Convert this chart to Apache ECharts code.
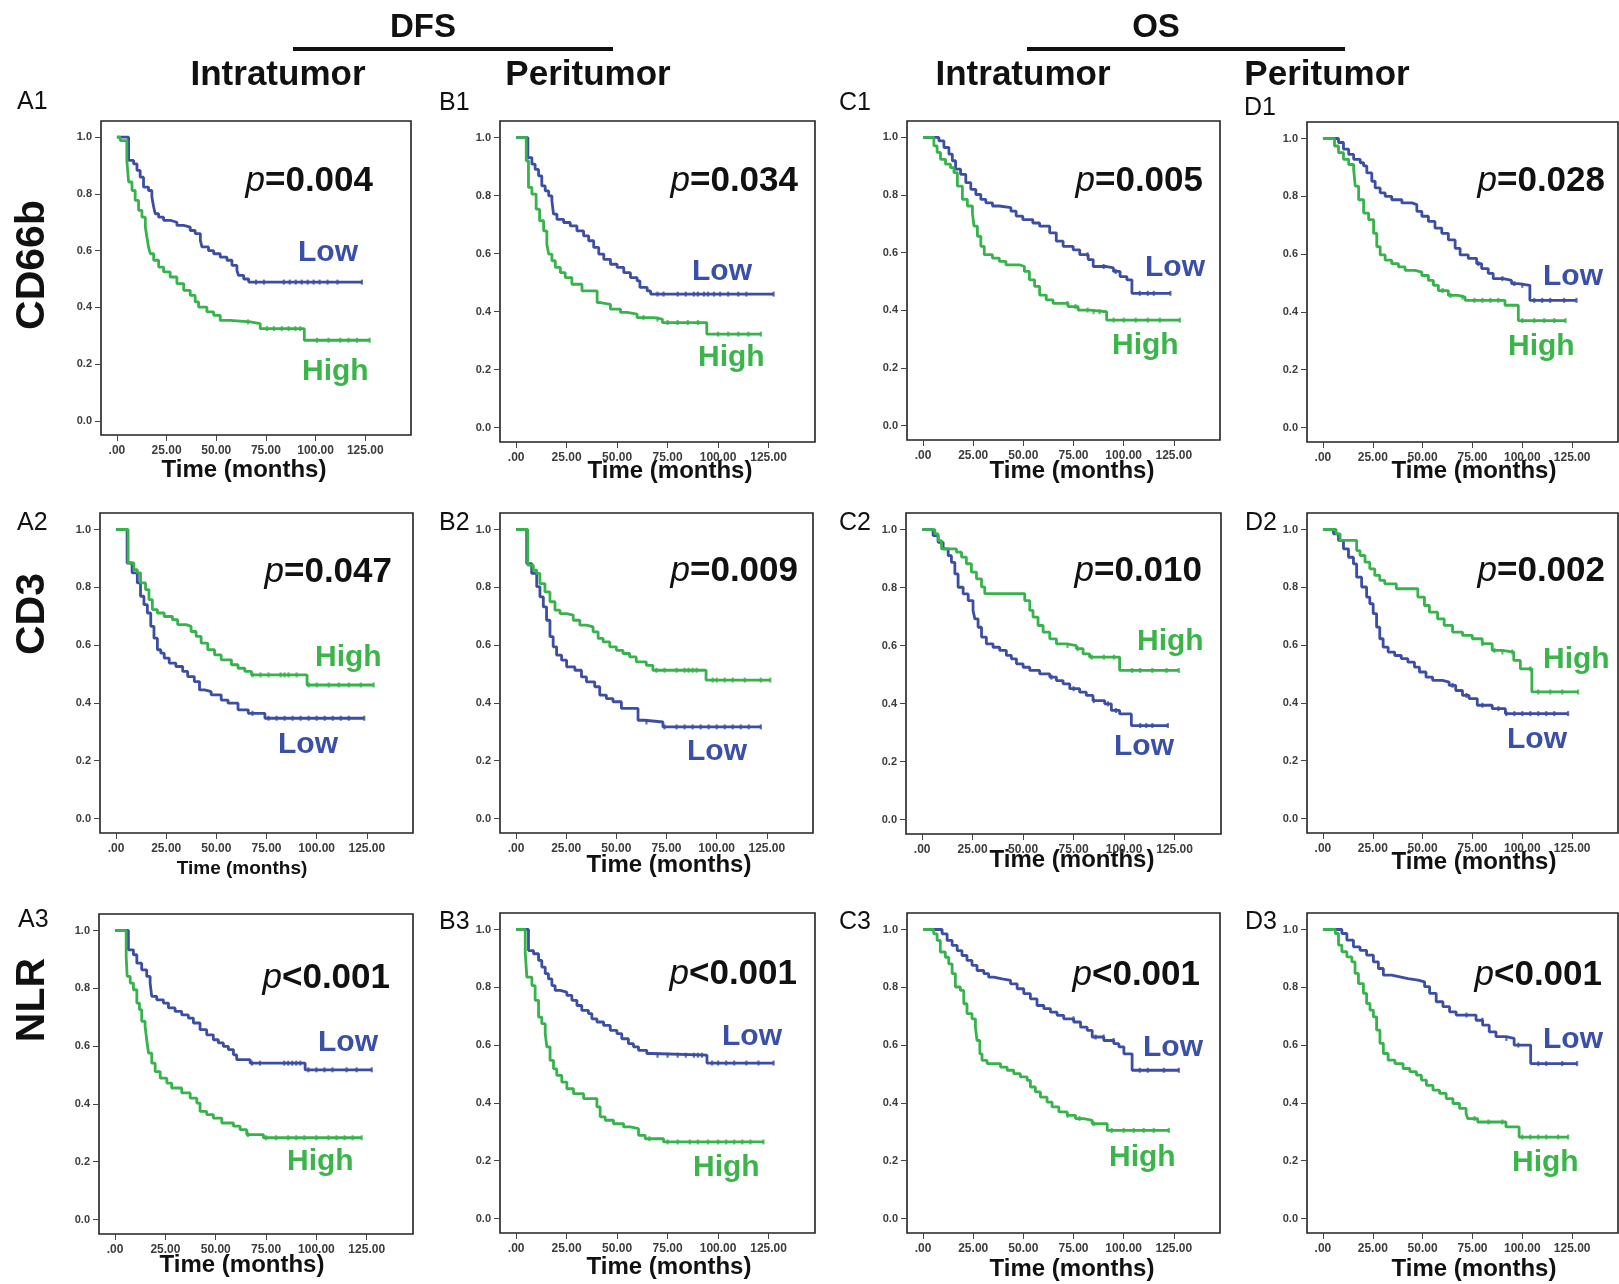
<!DOCTYPE html>
<html><head><meta charset="utf-8">
<script src="https://cdn.jsdelivr.net/npm/echarts@6/dist/echarts.min.js"></script>
<style>html,body{margin:0;padding:0;background:#fff}#c{width:1619px;height:1284px}</style>
</head><body><div id="c"></div>
<script>
// ---------------- DATA ----------------
const panelIds = ['A1','B1','C1','D1','A2','B2','C2','D2','A3','B3','C3','D3'];
const pTexts = ['=0.004','=0.034','=0.005','=0.028','=0.047','=0.009','=0.010','=0.002','<0.001','<0.001','<0.001','<0.001'];
const rowMarkers = ['CD66b','CD3','NLR'];
const groupHeaders = ['DFS','OS'];
const colHeaders = ['Intratumor','Peritumor','Intratumor','Peritumor'];
const xTicks = [0,25,50,75,100,125];
const yTicks = [0,0.2,0.4,0.6,0.8,1.0];
const xTitle = 'Time (months)';
const groupNames = ['Low','High'];

// Kaplan-Meier curves: [time (months), survival]
const A1_low = [[0,1],[5.9,0.918],[8.4,0.906],[10.1,0.883],[11.7,0.859],[13.4,0.824],[15.9,0.812],[17.6,0.789],[18.5,0.754],[19.3,0.730],[21,0.718],[23.5,0.707],[26.8,0.70],[30.2,0.689],[33.6,0.683],[36.9,0.671],[39.4,0.66],[42,0.636],[42.8,0.613],[46.1,0.60],[48.7,0.589],[52,0.577],[55.4,0.566],[57.9,0.548],[60.4,0.53],[61.2,0.513],[63.8,0.50],[66.3,0.489],[123.3,0.489]];
const A1_high = [[0,1],[1.7,0.988],[5,0.918],[5.9,0.842],[7.6,0.812],[9.2,0.777],[10.9,0.742],[12.6,0.718],[14.3,0.683],[15.1,0.648],[15.9,0.613],[16.8,0.589],[18.5,0.566],[21,0.542],[23.5,0.525],[26.8,0.507],[30.2,0.484],[33.6,0.46],[36.9,0.442],[39.4,0.419],[41.1,0.401],[45.3,0.384],[48.7,0.372],[52,0.354],[57,0.349],[67.1,0.343],[72.1,0.325],[94.3,0.284],[127.2,0.284]];
const B1_low = [[0,1],[5.8,0.931],[7.8,0.908],[9.4,0.89],[11.1,0.868],[12.7,0.833],[14.4,0.816],[16.1,0.799],[17.7,0.782],[18.5,0.736],[20.2,0.718],[23.5,0.707],[26.8,0.695],[30.1,0.678],[33.4,0.661],[35.9,0.644],[38.4,0.621],[40.9,0.598],[43.4,0.58],[46.7,0.563],[50,0.552],[53.3,0.534],[56.6,0.517],[59.9,0.506],[61.3,0.483],[64.9,0.471],[66.6,0.46],[127.5,0.46]];
const B1_high = [[0,1],[5,0.92],[6.1,0.828],[7.8,0.805],[9.9,0.753],[11.6,0.713],[13.6,0.678],[15.2,0.632],[16.1,0.598],[17.7,0.575],[19.4,0.552],[21.9,0.534],[24.3,0.517],[27.6,0.494],[32.6,0.471],[40.1,0.431],[41.7,0.425],[46.7,0.408],[51.7,0.397],[55,0.391],[59.9,0.379],[68.2,0.374],[72.4,0.362],[94.4,0.322],[121.2,0.322]];
const C1_low = [[0,1],[7.9,0.988],[10.4,0.965],[12.9,0.942],[14.6,0.919],[16.2,0.89],[18.7,0.872],[21.3,0.843],[23.8,0.82],[26.3,0.802],[28.8,0.785],[31.3,0.773],[34.6,0.762],[38,0.756],[43.8,0.744],[46.4,0.727],[49.7,0.715],[54.7,0.703],[58.1,0.692],[63.1,0.669],[66.4,0.64],[69.8,0.622],[74.8,0.61],[78.1,0.593],[82.3,0.576],[84.8,0.552],[91.5,0.547],[94.9,0.535],[98.2,0.517],[101.6,0.506],[104.1,0.459],[123.3,0.459]];
const C1_high = [[0,1],[5.4,0.971],[7,0.948],[8.7,0.924],[11.2,0.907],[13.7,0.895],[15.4,0.878],[17.1,0.831],[19.6,0.785],[22.1,0.762],[24.6,0.738],[25.4,0.692],[27.1,0.657],[28.8,0.622],[30.5,0.593],[34.6,0.581],[38,0.57],[41.3,0.558],[48,0.552],[50.5,0.535],[53,0.506],[55.6,0.483],[58.1,0.453],[61.4,0.436],[64.8,0.424],[72.3,0.413],[77.3,0.401],[83.2,0.395],[91.5,0.366],[128,0.366]];
const D1_low = [[0,1],[7.8,0.986],[10.3,0.963],[12.9,0.945],[15.4,0.928],[18.7,0.916],[20.4,0.905],[22,0.881],[24.5,0.852],[26.2,0.829],[28.7,0.812],[31.2,0.8],[34.5,0.788],[39.6,0.777],[44.6,0.771],[47.1,0.748],[49.6,0.731],[52.9,0.713],[56.2,0.69],[59.6,0.672],[62.9,0.649],[66.3,0.62],[68.8,0.597],[72.9,0.585],[77.1,0.567],[79.6,0.55],[82.9,0.533],[85.4,0.515],[90.5,0.509],[94.6,0.498],[98,0.492],[103.8,0.44],[127.2,0.44]];
const D1_high = [[0,1],[5.8,0.974],[7.8,0.951],[10.3,0.928],[12.9,0.91],[15.4,0.893],[16.2,0.835],[17.9,0.788],[20.4,0.742],[22.9,0.719],[25.4,0.672],[27,0.626],[28.7,0.597],[31.2,0.579],[34.5,0.567],[37.9,0.556],[41.2,0.544],[46.2,0.538],[49.6,0.526],[52.9,0.509],[55.4,0.492],[57.9,0.474],[62.9,0.457],[67.9,0.451],[71.3,0.44],[91.3,0.423],[98,0.37],[121.7,0.37]];
const A2_low = [[0,1],[5.5,0.884],[8,0.85],[10.6,0.815],[12.2,0.769],[13.9,0.74],[15.6,0.711],[17.3,0.665],[18.9,0.624],[20.6,0.584],[22.3,0.572],[24,0.555],[26.5,0.538],[29.8,0.526],[33.2,0.509],[35.7,0.491],[39,0.474],[41.6,0.445],[44.1,0.439],[47.4,0.428],[52.4,0.41],[55.8,0.399],[60.8,0.376],[65.9,0.364],[74.2,0.347],[123.7,0.347]];
const A2_high = [[0,1],[6,0.884],[8.9,0.861],[10.6,0.85],[12.2,0.815],[14.7,0.792],[16.4,0.757],[18.1,0.723],[20.6,0.711],[24,0.699],[28.1,0.688],[30.7,0.671],[34.9,0.665],[37.4,0.647],[39.9,0.63],[42.4,0.607],[45.7,0.584],[49.1,0.566],[52.4,0.549],[57.5,0.532],[60.8,0.52],[64.2,0.509],[67.5,0.497],[95.2,0.462],[128.4,0.462]];
const B2_low = [[0,1],[5.3,0.882],[7.8,0.848],[10.3,0.802],[11.9,0.767],[13.6,0.732],[15.2,0.686],[16.9,0.629],[18.5,0.594],[20.2,0.565],[22.7,0.548],[25.2,0.525],[29.3,0.513],[32.6,0.49],[35.1,0.473],[39.2,0.456],[41.7,0.427],[45,0.415],[48.3,0.404],[52.5,0.381],[60.8,0.34],[64.1,0.334],[73.2,0.317],[122,0.317]];
const B2_high = [[0,1],[5.8,0.877],[8.6,0.859],[10.3,0.848],[11.9,0.813],[14.4,0.784],[16.9,0.75],[19.4,0.721],[21.9,0.709],[25.2,0.704],[28.5,0.686],[31.8,0.669],[35.1,0.663],[38.4,0.646],[40.9,0.623],[43.4,0.611],[46.7,0.594],[50,0.582],[53.3,0.571],[56.6,0.559],[59.9,0.542],[64.9,0.53],[68.2,0.513],[94.7,0.479],[126.7,0.479]];
const C2_low = [[0,1],[5.4,0.979],[7.9,0.956],[10.4,0.933],[12.9,0.91],[14.5,0.887],[16.2,0.847],[17.8,0.801],[20.3,0.778],[22.8,0.755],[25.2,0.721],[26.1,0.692],[27.7,0.663],[29.4,0.629],[31.8,0.606],[35.1,0.594],[38.4,0.583],[41.7,0.566],[44.2,0.554],[46.7,0.537],[50,0.525],[53.3,0.514],[58.2,0.502],[63.2,0.491],[66.5,0.479],[69.8,0.468],[73.1,0.451],[78,0.439],[81.3,0.428],[84.6,0.41],[90.4,0.399],[93.7,0.376],[97.8,0.364],[103.6,0.324],[121.7,0.324]];
const C2_high = [[0,1],[6.3,0.985],[7.9,0.962],[9.6,0.933],[17,0.922],[19.5,0.905],[21.9,0.882],[24.4,0.853],[26.9,0.83],[29.4,0.802],[31,0.779],[50.8,0.755],[53.3,0.721],[54.9,0.698],[57.4,0.669],[59.9,0.646],[63.2,0.623],[66.5,0.606],[71.4,0.6],[76.4,0.589],[79.7,0.571],[82.9,0.56],[97.8,0.514],[127.1,0.514]];
const D2_low = [[0,1],[5.3,0.985],[7.8,0.962],[10.3,0.933],[12.8,0.904],[15.3,0.881],[16.9,0.835],[19.4,0.801],[21.9,0.766],[23.5,0.743],[25.2,0.709],[26.9,0.662],[28.5,0.622],[30.2,0.593],[32.7,0.576],[36,0.564],[39.3,0.553],[42.6,0.541],[45.9,0.524],[48.4,0.507],[51.7,0.489],[55,0.478],[60,0.472],[63.3,0.461],[66.6,0.443],[70,0.426],[73.3,0.415],[77.4,0.392],[84.9,0.38],[91.5,0.363],[123,0.363]];
const D2_high = [[0,1],[6.6,0.985],[8.6,0.962],[16.9,0.927],[18.6,0.91],[21.1,0.887],[23.5,0.864],[26,0.841],[28.5,0.824],[31,0.812],[36.8,0.795],[47.6,0.766],[50.9,0.737],[53.4,0.714],[57.5,0.691],[60.8,0.668],[65,0.645],[70,0.634],[74.9,0.622],[79.9,0.605],[84.9,0.582],[89.9,0.576],[95.7,0.547],[99,0.518],[104.8,0.438],[128,0.438]];
const A3_low = [[0,1],[6.6,0.933],[9.1,0.916],[10.8,0.887],[13.2,0.864],[15.7,0.841],[17.4,0.818],[18.2,0.772],[20.7,0.76],[24,0.749],[26.5,0.732],[29.8,0.72],[33.1,0.708],[36.4,0.697],[38.9,0.68],[42.2,0.657],[45.5,0.639],[48.8,0.622],[51.3,0.611],[53.8,0.599],[56.3,0.588],[58.8,0.57],[60.4,0.553],[67.1,0.541],[94.4,0.518],[127.5,0.518]];
const A3_high = [[0,1],[5.5,0.91],[6,0.841],[7.5,0.818],[9.1,0.795],[10.8,0.749],[12.1,0.726],[13.2,0.686],[14.9,0.668],[15.7,0.622],[16.6,0.576],[18.2,0.541],[19.9,0.512],[22.4,0.489],[25.7,0.472],[28.1,0.455],[33.1,0.438],[37.3,0.42],[40.6,0.403],[42.2,0.374],[45.5,0.363],[48.8,0.351],[53,0.334],[58.8,0.323],[62.1,0.311],[65.4,0.294],[73.7,0.283],[122.5,0.283]];
const B3_low = [[0,1],[6.1,0.927],[8.6,0.916],[11.1,0.893],[12.7,0.87],[14.4,0.847],[16,0.829],[17.7,0.806],[19.3,0.789],[21.8,0.783],[25.1,0.772],[27.6,0.755],[30.1,0.737],[32.5,0.72],[35.8,0.709],[37.5,0.691],[40,0.68],[43.3,0.668],[46.6,0.651],[49.9,0.64],[52.3,0.622],[55.6,0.605],[58.1,0.594],[60.6,0.582],[64.7,0.571],[67.2,0.565],[94.5,0.538],[127.5,0.538]];
const B3_high = [[0,1],[4.5,0.92],[5.3,0.835],[7.8,0.806],[9.4,0.755],[11.1,0.697],[12.7,0.674],[14.4,0.64],[15.2,0.594],[16.8,0.547],[18.5,0.518],[20.1,0.495],[22.6,0.472],[25.1,0.449],[28.4,0.432],[33.4,0.415],[40,0.386],[41.6,0.352],[44.1,0.34],[48.2,0.328],[53.2,0.317],[56.5,0.311],[60.6,0.288],[63.9,0.276],[73,0.265],[122.5,0.265]];
const C3_low = [[0,1],[9.5,0.985],[12,0.962],[14.5,0.945],[17,0.927],[19.4,0.91],[21.9,0.893],[24.4,0.876],[26.9,0.858],[30.3,0.847],[32.7,0.835],[35.2,0.829],[39.4,0.824],[43.6,0.812],[46.9,0.795],[50.2,0.778],[53.5,0.76],[56.8,0.737],[60.2,0.726],[63.5,0.714],[66.8,0.703],[70.1,0.691],[75.1,0.68],[78.5,0.662],[81.8,0.651],[84.3,0.628],[90.1,0.616],[95.1,0.605],[97.6,0.594],[100.1,0.57],[104.2,0.513],[127.5,0.513]];
const C3_high = [[0,1],[5.3,0.985],[7,0.962],[8.6,0.922],[11.1,0.904],[12.8,0.881],[14.5,0.847],[16.1,0.801],[18.6,0.789],[20.3,0.743],[21.9,0.709],[24.4,0.691],[26.1,0.662],[26.9,0.616],[28.3,0.57],[29.4,0.547],[31.9,0.536],[38.6,0.524],[41.9,0.513],[45.2,0.501],[48.5,0.49],[51.9,0.478],[53.5,0.455],[56,0.438],[58.5,0.42],[61.8,0.403],[64.3,0.386],[67.7,0.369],[71.8,0.357],[76,0.346],[80.1,0.34],[84.3,0.328],[91.8,0.305],[122.5,0.305]];
const D3_low = [[0,1],[9.5,0.986],[12,0.963],[15.3,0.94],[18.6,0.928],[21.9,0.911],[25.3,0.888],[27.8,0.865],[30.3,0.842],[34.4,0.836],[38.6,0.83],[42.7,0.825],[47.7,0.819],[51,0.802],[53.5,0.779],[56.8,0.75],[60.2,0.733],[63.5,0.715],[66.8,0.704],[76.8,0.686],[80.1,0.669],[83.4,0.646],[86.8,0.629],[91.8,0.623],[95.9,0.6],[104.2,0.536],[127.5,0.536]];
const D3_high = [[0,1],[6.2,0.986],[7.8,0.946],[9.5,0.923],[12,0.905],[14.5,0.888],[16.1,0.848],[17.8,0.813],[20.3,0.779],[21.9,0.744],[23.6,0.721],[25.3,0.698],[26.9,0.652],[28.6,0.606],[30.3,0.571],[32.7,0.548],[36.1,0.536],[40.2,0.519],[43.6,0.508],[46.9,0.496],[49.4,0.479],[51.9,0.461],[55.2,0.444],[58.5,0.433],[61.8,0.415],[65.2,0.398],[68.5,0.381],[71.8,0.363],[72.6,0.346],[77.6,0.334],[91.8,0.317],[98.4,0.282],[123,0.282]];

// censored observation times (months)
const A1_lowCens = [70,74,84,87,90,93,96,99,102,106,111,123.3];
const A1_highCens = [66,75.5,79,83,86.4,89.8,92.3,100.7,106.5,112.4,116.6,120.8,127.2];
const B1_lowCens = [70,73,80,84,88,90,93,95,98,101,105,110,114,127.5];
const B1_highCens = [63,70,75,80,85,90,100,105,110,115,121.2];
const C1_lowCens = [82,90,96,108,112,115,123.3];
const C1_highCens = [72,76,82,85,88,95,100,106,112,118,128];
const D1_lowCens = [78,90,96,100,106,110,114,121,127.2];
const D1_highCens = [60,64,70,76,80,84,88,100,106,111,116,121.7];
const A2_lowCens = [68,76,80,84,88,92,96,100,104,108,112,116,123.7];
const A2_highCens = [68,72,76,82,84,86,90,96,100,106,111,116,122,128.4];
const B2_lowCens = [65,74,80,84,88,92,96,100,104,108,112,116,122];
const B2_highCens = [70,74,80,84,86,88,90,98,100,104,108,114,122,126.7];
const C2_lowCens = [64,75,85,92,96,108,111,114,121.7];
const C2_highCens = [72,77,84,90,95,104,108,114,121,127.1];
const D2_lowCens = [65,72,80,88,92,96,100,104,108,112,116,123];
const D2_highCens = [80,86,90,95,104,108,114,120,128];
const A3_lowCens = [68,72,84,86,88,90,92,96,100,104,108,115,120,127.5];
const A3_highCens = [66,75,80,86,90,94,100,106,110,114,118,122.5];
const B3_lowCens = [70,75,80,84,88,90,92,97,100,104,108,114,120,127.5];
const B3_highCens = [66,75,80,86,90,95,100,104,108,112,116,122.5];
const C3_lowCens = [75,86,90,95,108,112,120,127.5];
const C3_highCens = [72,78,85,94,100,105,110,115,122.5];
const D3_lowCens = [72,80,92,98,108,112,120,127.5];
const D3_highCens = [76,83,90,100,104,108,112,118,123];

const lowCurves = [A1_low,B1_low,C1_low,D1_low,A2_low,B2_low,C2_low,D2_low,A3_low,B3_low,C3_low,D3_low];
const highCurves = [A1_high,B1_high,C1_high,D1_high,A2_high,B2_high,C2_high,D2_high,A3_high,B3_high,C3_high,D3_high];
const lowCens = [A1_lowCens,B1_lowCens,C1_lowCens,D1_lowCens,A2_lowCens,B2_lowCens,C2_lowCens,D2_lowCens,A3_lowCens,B3_lowCens,C3_lowCens,D3_lowCens];
const highCens = [A1_highCens,B1_highCens,C1_highCens,D1_highCens,A2_highCens,B2_highCens,C2_highCens,D2_highCens,A3_highCens,B3_highCens,C3_highCens,D3_highCens];

// ---------------- LAYOUT ----------------
const gridBox = [
  [101,121,310,314],[500,121,315,321],[907,121,313,319],[1307,122,311,320],
  [100,513,313,320],[500,513,313,320],[906,513,315,321],[1307,513,311,320],
  [99,914,314,320],[500,913,315,320],[907,913,313,320],[1307,913,311,320]
];
const idPos = [[17,102],[439,103],[839,103],[1244,108],[17,523],[439,523],[839,523],[1245,523],[18,920],[439,922],[839,922],[1245,922]];
const pPos = [[373,181],[798,181],[1203,181],[1605,181],[392,572],[798,571],[1202,571],[1605,571],[390,978],[797,974],[1200,975],[1602,975]];
const lowPos = [[298,253],[692,272],[1145,268],[1543,277],[278,745],[687,752],[1114,747],[1507,740],[318,1043],[722,1037],[1143,1048],[1543,1040]];
const highPos = [[302,372],[698,358],[1112,346],[1508,347],[315,658],null,[1137,642],[1543,660],[287,1162],[693,1168],[1109,1158],[1512,1163]];
const titlePos = [[244,470,24],[670,471,24],[1072,471,24],[1474,471,24],[242,869,19],[669,865,24],[1072,860,24],[1474,862,24],[242,1265,24],[669,1267,24],[1072,1269,24],[1474,1269,24]];
const rowPos = [[33,265],[33,614],[33,1000]];
const groupPos = [[423,28,293,613],[1156,28,1027,1345]];
const colPos = [[278,75],[588,75],[1023,75],[1327,75]];

const FONT = '"Liberation Sans", Arial, Helvetica, sans-serif';
const BLUE = '#3b4ea4';
const GREEN = '#36b34a';

function survAt(curve, t) {
  let s = curve[0][1];
  for (const p of curve) { if (p[0] <= t) s = p[1]; else break; }
  return s;
}

const grids = [], xAxes = [], yAxes = [], series = [], graphics = [];
gridBox.forEach((g, i) => {
  grids.push({left: g[0], top: g[1], width: g[2], height: g[3], show: true,
    borderColor: '#222', borderWidth: 1.6, backgroundColor: 'transparent'});
  xAxes.push({type: 'value', gridIndex: i, min: -8, max: 148, position: 'bottom',
    axisLine: {show: false, onZero: false}, splitLine: {show: false},
    axisTick: {show: true, inside: false, length: 6, customValues: xTicks, lineStyle: {color: '#444', width: 1}},
    axisLabel: {customValues: xTicks, margin: 10, fontFamily: FONT, fontSize: 12, fontWeight: 'bold', color: '#3c3c3c',
      formatter: v => v === 0 ? '.00' : v.toFixed(2)}});
  yAxes.push({type: 'value', gridIndex: i, min: -0.05, max: 1.057, position: 'left',
    axisLine: {show: false, onZero: false}, splitLine: {show: false},
    axisTick: {show: true, inside: false, length: 6, customValues: yTicks, lineStyle: {color: '#444', width: 1}},
    axisLabel: {customValues: yTicks, margin: 9, fontFamily: FONT, fontSize: 11, fontWeight: 'bold', color: '#3c3c3c',
      formatter: v => v.toFixed(1)}});
  const curves = [[lowCurves[i], lowCens[i], BLUE, groupNames[0]], [highCurves[i], highCens[i], GREEN, groupNames[1]]];
  curves.forEach(c => {
    series.push({type: 'line', name: panelIds[i] + ' ' + c[3], xAxisIndex: i, yAxisIndex: i, data: c[0],
      step: 'end', showSymbol: false, symbol: 'none', lineStyle: {color: c[2], width: 2.8}, z: 3, silent: true});
    series.push({type: 'scatter', xAxisIndex: i, yAxisIndex: i,
      data: c[1].map(t => [t, survAt(c[0], t)]), symbol: 'rect', symbolSize: [2.2, 5],
      itemStyle: {color: c[2]}, z: 4, silent: true});
  });
  graphics.push({type: 'text', x: idPos[i][0], y: idPos[i][1], style: {text: panelIds[i], font: '25px ' + FONT,
    fill: '#111', textAlign: 'left', textVerticalAlign: 'middle'}});
  graphics.push({type: 'text', x: pPos[i][0], y: pPos[i][1], style: {text: '{i|p}{b|' + pTexts[i] + '}',
    align: 'right', verticalAlign: 'middle', fill: '#111',
    rich: {i: {fontFamily: FONT, fontStyle: 'italic', fontWeight: 'normal', fontSize: 35, fill: '#111'},
           b: {fontFamily: FONT, fontWeight: 'bold', fontSize: 35, fill: '#111'}}}});
  graphics.push({type: 'text', x: lowPos[i][0], y: lowPos[i][1], style: {text: groupNames[0],
    font: 'bold 30px ' + FONT, fill: '#3a4fa8', textAlign: 'left', textVerticalAlign: 'middle'}});
  if (highPos[i]) graphics.push({type: 'text', x: highPos[i][0], y: highPos[i][1], style: {text: groupNames[1],
    font: 'bold 30px ' + FONT, fill: '#3bb54a', textAlign: 'left', textVerticalAlign: 'middle'}});
  graphics.push({type: 'text', x: titlePos[i][0], y: titlePos[i][1], style: {text: xTitle,
    font: 'bold ' + titlePos[i][2] + 'px ' + FONT, fill: '#111', textAlign: 'center', textVerticalAlign: 'middle'}});
});
rowMarkers.forEach((t, r) => {
  graphics.push({type: 'text', x: rowPos[r][0], y: rowPos[r][1], rotation: Math.PI / 2,
    style: {text: t, font: 'bold 41px ' + FONT, fill: '#111', textAlign: 'center', textVerticalAlign: 'middle'}});
});
groupHeaders.forEach((t, k) => {
  const gp = groupPos[k];
  graphics.push({type: 'text', x: gp[0], y: gp[1], style: {text: t, font: 'bold 33px ' + FONT, fill: '#111',
    textAlign: 'center', textVerticalAlign: 'middle'}});
  graphics.push({type: 'line', shape: {x1: gp[2], y1: 49, x2: gp[3], y2: 49}, style: {stroke: '#111', lineWidth: 4}});
});
colHeaders.forEach((t, k) => {
  graphics.push({type: 'text', x: colPos[k][0], y: colPos[k][1], style: {text: t, font: 'bold 35px ' + FONT,
    fill: '#111', textAlign: 'center', textVerticalAlign: 'middle'}});
});

const chart = echarts.init(document.getElementById('c'), null, {renderer: 'canvas'});
chart.setOption({
  animation: false,
  backgroundColor: '#fff',
  grid: grids, xAxis: xAxes, yAxis: yAxes, series: series,
  graphic: {elements: graphics}
});
</script>
</body></html>
